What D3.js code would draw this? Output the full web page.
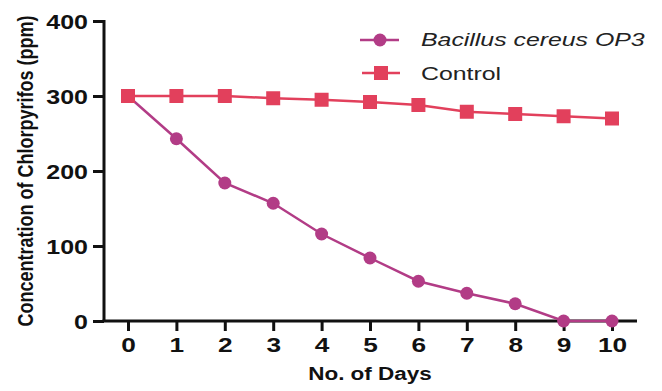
<!DOCTYPE html>
<html>
<head>
<meta charset="utf-8">
<script src="https://cdn.jsdelivr.net/npm/d3@7"></script>
<style>
  body { margin: 0; background: #fff; }
  text { font-family: Arial, "Liberation Sans", sans-serif; }
</style>
</head>
<body>
<script>
// values
var days = [0, 1, 2, 3, 4, 5, 6, 7, 8, 9, 10];
var bacillus = [300, 243, 184, 157, 116, 84, 53, 37, 23, 0, 0];
var control = [300, 300, 300, 297, 295, 292, 288, 279, 276, 273, 270];
var yTicks = [0, 100, 200, 300, 400];
var seriesNames = ["Bacillus cereus OP3", "Control"];

var W = 662, H = 391;
var purple = "#b23c86", red = "#e2405c";
var stretch = 1.25; // text in the picture is widened

var svg = d3.select("body").append("svg")
    .attr("width", W).attr("height", H);

var x = d3.scaleLinear().domain([0, 10]).range([128, 612]);
var y = d3.scaleLinear().domain([0, 400]).range([321, 21]);

// y axis
var yAxis = svg.append("g").attr("transform", "translate(104,0)")
    .call(d3.axisLeft(y).tickValues(yTicks).tickSize(11).tickPadding(5));
yAxis.select(".domain").attr("stroke", "#111").attr("stroke-width", 3)
    .attr("d", "M0," + (y(400) - 1) + "V" + y(0));
yAxis.selectAll(".tick line").attr("stroke", "#111").attr("stroke-width", 3);
yAxis.selectAll(".tick text")
    .attr("font-size", 20).attr("font-weight", "bold").attr("fill", "#111")
    .attr("font-family", "Arial, 'Liberation Sans', sans-serif")
    .attr("x", 0).attr("dy", "0.36em")
    .attr("transform", "translate(-16,0) scale(" + stretch + ",1)");

// x axis
var xAxis = svg.append("g").attr("transform", "translate(0,321)")
    .call(d3.axisBottom(x).tickValues(days).tickSize(10).tickPadding(6));
xAxis.select(".domain").attr("stroke", "#111").attr("stroke-width", 3)
    .attr("d", "M102.5,0H637");
xAxis.selectAll(".tick line").attr("stroke", "#111").attr("stroke-width", 3);
xAxis.selectAll(".tick text")
    .attr("font-size", 21).attr("font-weight", "bold").attr("fill", "#111")
    .attr("font-family", "Arial, 'Liberation Sans', sans-serif")
    .attr("dy", "0.71em")
    .attr("transform", "scale(" + stretch + ",1)");

// axis titles
svg.append("text")
    .attr("transform", "translate(370,380) scale(" + stretch + ",1)")
    .attr("text-anchor", "middle").attr("font-size", 18).attr("font-weight", "bold")
    .attr("fill", "#111").text("No. of Days");

svg.append("text")
    .attr("transform", "translate(33,171) rotate(-90) scale(1," + stretch + ")")
    .attr("text-anchor", "middle").attr("font-size", 18).attr("font-weight", "bold")
    .attr("fill", "#111").text("Concentration of Chlorpyrifos (ppm)");

var line = d3.line().x(function(d, i) { return x(days[i]); }).y(function(d) { return y(d); });

// bacillus series (drawn first, control square sits on top at day 0)
svg.append("path").datum(bacillus)
    .attr("d", line).attr("fill", "none").attr("stroke", purple).attr("stroke-width", 2.5);
svg.selectAll(".dot").data(bacillus).enter().append("circle")
    .attr("class", "dot")
    .attr("cx", function(d, i) { return x(days[i]); })
    .attr("cy", function(d) { return y(d); })
    .attr("r", 6.5).attr("fill", purple);

// control series
svg.append("path").datum(control)
    .attr("d", line).attr("fill", "none").attr("stroke", red).attr("stroke-width", 2.5);
svg.selectAll(".sq").data(control).enter().append("rect")
    .attr("class", "sq")
    .attr("x", function(d, i) { return x(days[i]) - 7; })
    .attr("y", function(d) { return y(d) - 7; })
    .attr("width", 14).attr("height", 14)
    .attr("fill", red);

// legend
var legend = svg.append("g");
legend.append("line").attr("x1", 360).attr("x2", 399).attr("y1", 40).attr("y2", 40)
    .attr("stroke", purple).attr("stroke-width", 2.5);
legend.append("circle").attr("cx", 380).attr("cy", 40).attr("r", 6.5).attr("fill", purple);
legend.append("line").attr("x1", 362).attr("x2", 400).attr("y1", 73).attr("y2", 73)
    .attr("stroke", red).attr("stroke-width", 2.5);
legend.append("rect").attr("x", 374).attr("y", 66).attr("width", 14).attr("height", 14).attr("fill", red);

legend.append("text")
    .attr("transform", "translate(421,46) scale(1.38,1)")
    .attr("font-size", 18).attr("font-style", "italic").attr("fill", "#222")
    .text(seriesNames[0]);
legend.append("text")
    .attr("transform", "translate(421,80) scale(1.38,1)")
    .attr("font-size", 18).attr("fill", "#222")
    .text(seriesNames[1]);
</script>
</body>
</html>
